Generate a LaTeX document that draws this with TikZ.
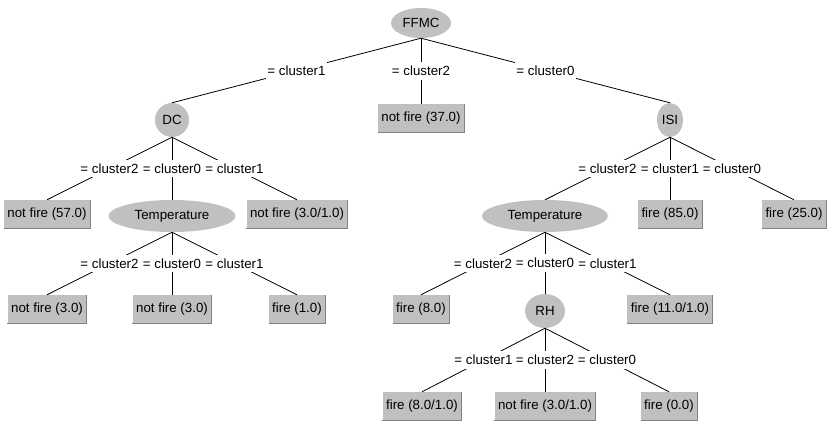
\documentclass[tikz,border=0pt]{standalone}
\usepackage{fontspec}
\setmainfont{Liberation Sans}
\usetikzlibrary{shapes.geometric}
\definecolor{nodegray}{HTML}{C0C0C0}
\definecolor{edgedark}{HTML}{808080}
\begin{document}
\begin{tikzpicture}[x=1pt,y=-1pt,
  font=\fontsize{13.3}{15}\selectfont,
  inner/.style={ellipse, fill=nodegray, inner sep=0pt},
  leaf/.style={rectangle, fill=nodegray, minimum height=28pt, inner xsep=3.5pt, inner ysep=0pt},
  lbl/.style={fill=white, inner xsep=1pt, inner ysep=4pt},
  conn/.style={draw=black, line width=0.8pt}]
\useasboundingbox (0,0) rectangle (835,432);
% internal nodes
\node[inner, minimum width=60pt, minimum height=30pt] (ffmc) at (421,23) {FFMC};
\node[inner, minimum width=34pt, minimum height=34pt] (dc) at (172,120) {DC};
\node[inner, minimum width=26pt, minimum height=34pt] (isi) at (670,120) {ISI};
\node[inner, minimum width=127pt, minimum height=32pt] (templ) at (172,216) {Temperature};
\node[inner, minimum width=126pt, minimum height=32pt] (tempr) at (545,216) {Temperature};
\node[inner, minimum width=40pt, minimum height=34pt] (rh) at (545,311) {RH};
% leaves
\node[leaf] (nf37) at (421,118) {not fire (37.0)};
\node[leaf] (nf57) at (47,214) {not fire (57.0)};
\node[leaf] (nf31a) at (297,214) {not fire (3.0/1.0)};
\node[leaf] (nf3a) at (47,309) {not fire (3.0)};
\node[leaf] (nf3b) at (172,309) {not fire (3.0)};
\node[leaf] (f1) at (297,309) {fire (1.0)};
\node[leaf] (f85) at (670,214) {fire (85.0)};
\node[leaf] (f25) at (794,214) {fire (25.0)};
\node[leaf] (f8) at (421,309) {fire (8.0)};
\node[leaf] (f111) at (670,309) {fire (11.0/1.0)};
\node[leaf] (f81) at (422,406) {fire (8.0/1.0)};
\node[leaf] (nf31b) at (545,406) {not fire (3.0/1.0)};
\node[leaf] (f0) at (669,406) {fire (0.0)};
\foreach \n in {nf37,nf57,nf31a,nf3a,nf3b,f1,f85,f25,f8,f111,f81,nf31b,f0}{
  \draw[edgedark, line width=1pt] (\n.south west) -- (\n.south east) -- (\n.north east);
}
% edges
\draw[conn] (ffmc.south) -- node[lbl]{= cluster1} (dc.north);
\draw[conn] (ffmc.south) -- node[lbl]{= cluster2} (nf37.north);
\draw[conn] (ffmc.south) -- node[lbl]{= cluster0} (isi.north);
\draw[conn] (dc.south) -- node[lbl]{= cluster2} (nf57.north);
\draw[conn] (dc.south) -- node[lbl]{= cluster0} (templ.north);
\draw[conn] (dc.south) -- node[lbl]{= cluster1} (nf31a.north);
\draw[conn] (templ.south) -- node[lbl]{= cluster2} (nf3a.north);
\draw[conn] (templ.south) -- node[lbl]{= cluster0} (nf3b.north);
\draw[conn] (templ.south) -- node[lbl]{= cluster1} (f1.north);
\draw[conn] (isi.south) -- node[lbl]{= cluster2} (tempr.north);
\draw[conn] (isi.south) -- node[lbl]{= cluster1} (f85.north);
\draw[conn] (isi.south) -- node[lbl]{= cluster0} (f25.north);
\draw[conn] (tempr.south) -- node[lbl]{= cluster2} (f8.north);
\draw[conn] (tempr.south) -- node[lbl]{= cluster0} (rh.north);
\draw[conn] (tempr.south) -- node[lbl]{= cluster1} (f111.north);
\draw[conn] (rh.south) -- node[lbl]{= cluster1} (f81.north);
\draw[conn] (rh.south) -- node[lbl]{= cluster2} (nf31b.north);
\draw[conn] (rh.south) -- node[lbl]{= cluster0} (f0.north);
\end{tikzpicture}
\end{document}
